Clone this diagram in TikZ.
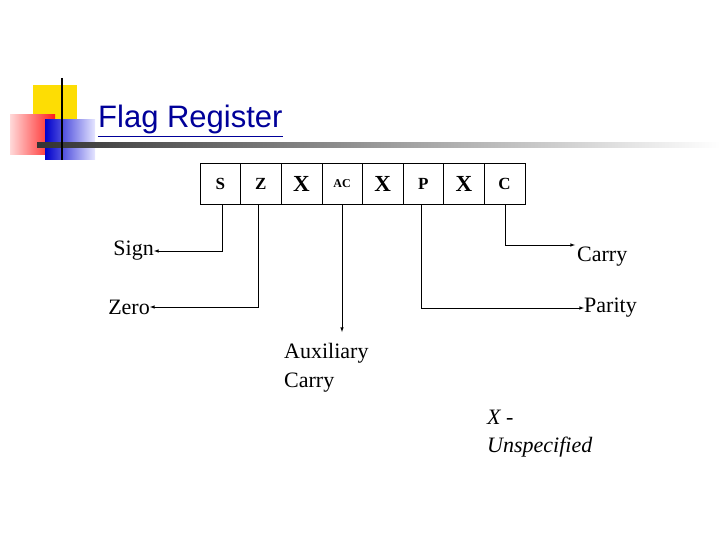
\documentclass[tikz,border=0pt]{standalone}
\usepackage{fontspec}
\setmainfont{Liberation Serif}
\newfontfamily\titlefont{Liberation Sans}
\newcommand{\bigx}{\fontsize{23}{23}\selectfont X}
\newcommand{\smallac}{\fontsize{12}{12}\selectfont AC}
\begin{document}
\begin{tikzpicture}[x=1pt,y=-1pt,
  cell/.style={draw,minimum width=40.6pt,minimum height=41pt,inner sep=0pt,font=\fontsize{17}{17}\selectfont\bfseries},
  lbl/.style={font=\fontsize{22}{29}\selectfont,inner sep=0pt},
  conn/.style={line width=0.6pt},
  arr/.style={conn,-latex}]
\useasboundingbox (0,0) rectangle (720,540);
% decoration
\fill[yellow!80!orange] (33,85) rectangle (77,125);
\shade[left color=red!15, right color=red!90] (10,115) rectangle (55,155);
\shade[left color=blue!80!black, right color=blue!10] (45,120) rectangle (95,160);
\shade[left color=black!80, right color=white] (37,143) rectangle (720,148);
\draw[line width=1.5pt] (62,78) -- (62,160);
\node[anchor=base west,inner sep=0pt,font=\titlefont\fontsize{31}{31}\selectfont,text=blue!60!black] (title) at (98,128) {\underline{Flag Register}};
% register
\foreach \t [count=\i] in {S,Z,\bigx,\smallac,\bigx,P,\bigx,C}
  \node[cell] (c\i) at (200+40.6*\i-20.3,184) {\t};
% labels
\node[lbl,anchor=east] (sign) at (154,251) {Sign};
\node[lbl,anchor=east] (zero) at (150,307) {Zero};
\node[lbl,anchor=west] (carry) at (577,257) {Carry};
\node[lbl,anchor=west] (parity) at (584,308) {Parity};
\node[lbl,anchor=north west,align=left] (aux) at (284,343) {Auxiliary\\Carry};
\node[lbl,anchor=north west,align=left,font=\fontsize{22}{28}\selectfont\itshape] (unsp) at (487,410) {X -\\Unspecified};
% connectors
\draw[arr] (c1.south -| 222,0) |- (sign.east);
\draw[arr] (c2.south -| 258,0) |- (zero.east);
\coordinate (auxtip) at (342,332);
\draw[arr] (c4.south -| 342,0) -- (auxtip);
\draw[arr] (c6.south -| 421,0) |- (parity.west);
\draw[arr] (c8.south -| 505,0) |- (505,245) -- (575,245);
\end{tikzpicture}
\end{document}
